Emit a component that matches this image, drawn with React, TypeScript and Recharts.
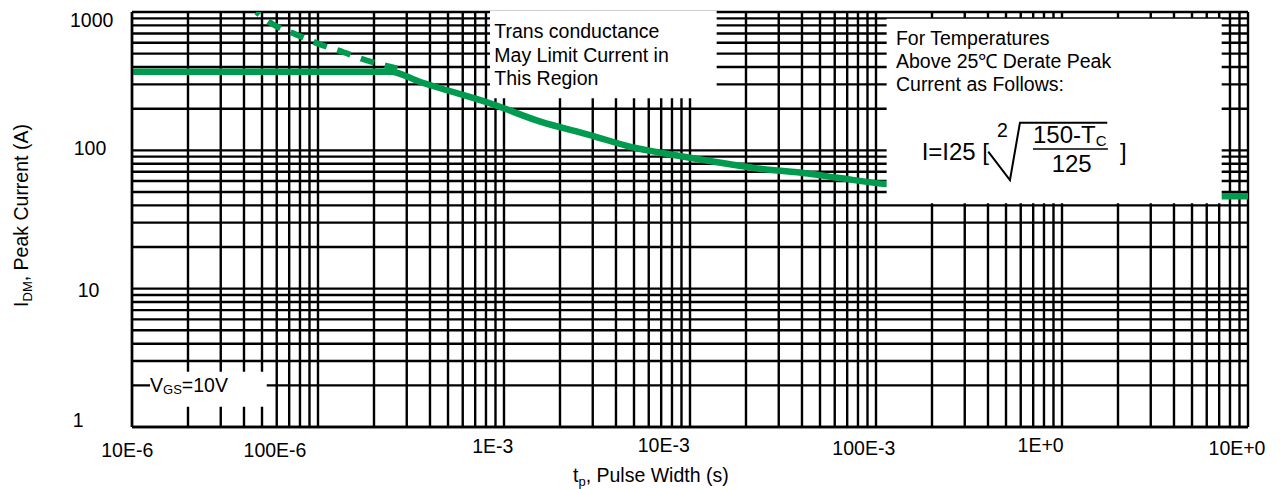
import React from 'react';
import { LineChart, Line, XAxis, YAxis, CartesianGrid, ReferenceArea, Label } from 'recharts';

const FONT = '"Liberation Sans", Arial, Helvetica, sans-serif';
const GREEN = '#009b4e';

// pulse width decades (s) and how they are printed
const xDecades = [1e-5, 1e-4, 1e-3, 1e-2, 1e-1, 1, 10];
const xDecadeLabels = ['10E-6', '100E-6', '1E-3', '10E-3', '100E-3', '1E+0', '10E+0'];

// peak current decades (A)
const yDecades = [1, 10, 100, 1000];
const yDecadeLabels = ['1', '10', '100', '1000'];

// I_DM limit curve (solid)
const pulseWidth = [1e-5, 2.45e-4, 3.55e-4, 4.55e-4, 8.4e-4, 1.57e-3, 2.9e-3, 4.8e-3, 8.2e-3, 1.52e-2, 2.3e-2, 4.3e-2, 6.4e-2, 0.115, 7.2, 10];
const peakCurrent = [370, 370, 312, 281, 219, 161, 129, 106, 92.5, 80.6, 74, 68, 63, 57, 46.5, 46.5];

// transconductance limited region (dashed)
const gmPulseWidth = [4.66e-5, 5.75e-5, 7.67e-5, 1.02e-4, 1.37e-4, 1.83e-4, 2.67e-4];
const gmCurrent = [1000, 812, 685, 585, 512, 446, 391];

const minorSteps = [1, 2, 3, 4, 5, 6, 7, 8, 9];
const logGrid = (decades: number[]) =>
  decades.slice(0, -1).flatMap((d) => minorSteps.map((m) => m * d)).concat(decades[decades.length - 1]);

const xGrid = logGrid(xDecades);
const yGrid = logGrid(yDecades);

const solidData = pulseWidth.map((t, k) => ({ t, i: peakCurrent[k] }));
const gmData = gmPulseWidth.map((t, k) => ({ t, i: gmCurrent[k] }));

// label placement tweaks [dx, dy] per decade
const xLabelNudge: [number, number][] = [
  [-4.7, 29.7], [-43, 29.7], [-11.2, 26], [-26.2, 24.7], [-12.2, 28], [-21.4, 24.7], [-11, 28],
];
const yLabelNudge: [number, number][] = [
  [-53.7, -0.3], [-43.5, 8], [-42, 4.7], [-40.3, 14.7],
];

const findDecade = (list: number[], v: number) => list.findIndex((d) => Math.abs(v / d - 1) < 1e-6);

const XTick = (props: any) => {
  const { x, y, payload } = props;
  const k = findDecade(xDecades, payload.value);
  if (k < 0) return <g />;
  const [dx, dy] = xLabelNudge[k];
  return (
    <text x={x + dx} y={y + dy} textAnchor="middle" fontSize={19.5} fontFamily={FONT} fill="#000">
      {xDecadeLabels[k]}
    </text>
  );
};

const YTick = (props: any) => {
  const { x, y, payload } = props;
  const k = findDecade(yDecades, payload.value);
  if (k < 0) return <g />;
  const [dx, dy] = yLabelNudge[k];
  return (
    <text x={x + dx} y={y + dy} textAnchor="middle" fontSize={19.5} fontFamily={FONT} fill="#000">
      {yDecadeLabels[k]}
    </text>
  );
};

const XTitle = (props: any) => {
  const { x, y } = props.viewBox;
  return (
    <text x={x + 441} y={y + 54.7} fontSize={19.5} fontFamily={FONT} fill="#000">
      t<tspan fontSize={13} dy={4}>p</tspan>
      <tspan dy={-4}>, Pulse Width (s)</tspan>
    </text>
  );
};

const YTitle = (props: any) => {
  const { x, y } = props.viewBox;
  const cx = x + 28;
  const cy = y + 203.5;
  return (
    <text x={cx} y={cy} transform={`rotate(-90, ${cx}, ${cy})`} textAnchor="middle" fontSize={19.5} fontFamily={FONT} fill="#000">
      I<tspan fontSize={13} dy={4}>DM</tspan>
      <tspan dy={-4}>, Peak Current (A)</tspan>
    </text>
  );
};

const GmNote = (props: any) => {
  const { x, y } = props.viewBox;
  const rows = ['Trans conductance', 'May Limit Current in', 'This Region'];
  return (
    <text fontSize={19.5} fontFamily={FONT} fill="#000">
      {rows.map((s, k) => (
        <tspan key={s} x={x + 4.3} y={y + 27.5 + k * 23.3}>{s}</tspan>
      ))}
    </text>
  );
};

const DerateNote = (props: any) => {
  const { x, y } = props.viewBox;
  const rows = ['For Temperatures', 'Above 25℃ Derate Peak', 'Current as Follows:'];
  return (
    <g fontFamily={FONT} fill="#000">
      <text fontSize={19.5}>
        {rows.map((s, k) => (
          <tspan key={s} x={x + 9.3} y={y + 26.3 + k * 22.85}>{s}</tspan>
        ))}
      </text>
      <text x={x + 35} y={y + 141.3} fontSize={24}>I=I25 [</text>
      <path
        d={`M${x + 101.6},${y + 133} L${x + 123.3},${y + 161.3} L${x + 133.3},${y + 104} L${x + 220.6},${y + 104}`}
        stroke="#000"
        strokeWidth={2}
        fill="none"
      />
      <text x={x + 110.3} y={y + 118} fontSize={19.5}>2</text>
      <text x={x + 146.3} y={y + 124.6} fontSize={24}>
        150-T<tspan fontSize={15} dy={3}>C</tspan>
      </text>
      <line x1={x + 146.3} x2={x + 221.3} y1={y + 130.3} y2={y + 130.3} stroke="#000" strokeWidth={1.5} />
      <text x={x + 185} y={y + 153} fontSize={24} textAnchor="middle">125</text>
      <text x={x + 233.3} y={y + 141.3} fontSize={24}>]</text>
    </g>
  );
};

const VgsNote = (props: any) => {
  const { x, y } = props.viewBox;
  return (
    <text x={x} y={y + 20} fontSize={19.5} fontFamily={FONT} fill="#000">
      V<tspan fontSize={13} dy={2}>GS</tspan>
      <tspan dy={-2}>=10V</tspan>
    </text>
  );
};

const PeakCurrentChart: React.FC = () => (
  <div style={{ position: 'absolute', left: 0, top: 0, width: 1281, height: 489, background: '#fff' }}>
    <LineChart width={1281} height={489} margin={{ top: 12, right: 33, bottom: 0, left: 0 }}>
      <CartesianGrid stroke="#000" strokeWidth={2.4} />
      <XAxis
        dataKey="t"
        type="number"
        scale="log"
        domain={[1e-5, 10]}
        ticks={xGrid}
        interval={0}
        allowDataOverflow
        tick={<XTick />}
        tickLine={false}
        tickSize={0}
        tickMargin={0}
        axisLine={{ stroke: '#000', strokeWidth: 2.4 }}
        height={62}
      >
        <Label content={XTitle} />
      </XAxis>
      <YAxis
        type="number"
        scale="log"
        domain={[1, 1000]}
        ticks={yGrid}
        interval={0}
        allowDataOverflow
        tick={<YTick />}
        tickLine={false}
        tickSize={0}
        tickMargin={0}
        axisLine={{ stroke: '#000', strokeWidth: 2.4 }}
        width={132}
      >
        <Label content={YTitle} />
      </YAxis>
      <Line
        data={solidData}
        dataKey="i"
        type="monotone"
        stroke={GREEN}
        strokeWidth={6.5}
        dot={false}
        activeDot={false}
        isAnimationActive={false}
      />
      <Line
        data={gmData}
        dataKey="i"
        type="monotone"
        stroke={GREEN}
        strokeWidth={6}
        strokeDasharray="14 11"
        strokeDashoffset={10}
        dot={false}
        activeDot={false}
        isAnimationActive={false}
      />
      <ReferenceArea x1={8.41e-4} x2={1.391e-2} y1={237.8} y2={1020} fill="#fff" fillOpacity={1} stroke="none" ifOverflow="visible" zIndex={450} label={GmNote} />
      <ReferenceArea x1={0.1141} x2={7.22} y1={41.4} y2={894.6} fill="#fff" fillOpacity={1} stroke="none" ifOverflow="visible" zIndex={450} label={DerateNote} />
      <ReferenceArea x1={1.25e-5} x2={5.3e-5} y1={1.4} y2={2.51} fill="#fff" fillOpacity={1} stroke="none" ifOverflow="visible" zIndex={450} label={VgsNote} />
    </LineChart>
  </div>
);

export default PeakCurrentChart;
